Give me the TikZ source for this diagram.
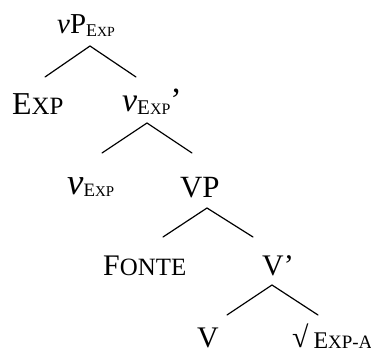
\documentclass[tikz,border=0pt]{standalone}
\usepackage{fontspec}
\setmainfont{Liberation Serif}
\usetikzlibrary{positioning}

% fake small caps: first letter at #1, rest at #2
\newcommand{\fsc}[4]{{\fontsize{#1}{#1}\selectfont #3}{\fontsize{#2}{#2}\selectfont #4}}
\newcommand{\lowered}[2]{\raisebox{-#1}{#2}}

\tikzset{
    branch/.style = {line width=1.2bp, line cap=round},
    lab/.style    = {inner sep=0pt, anchor=base west},
}

\begin{document}
\begin{tikzpicture}[x=1bp,y=-1bp]

    \useasboundingbox (0,0) rectangle (371,354);

    % ---------- labels ----------
    \node[lab] (vPexp) at (57,33)
      {\fontsize{29}{29}\selectfont\textit{v}P\lowered{3bp}{\fsc{18}{14}{E}{XP}}};
    \node[lab] (exp) at (12,114) {\fsc{32}{25}{E}{XP}};
    \node[lab] (vbar) at (122,111)
      {\fontsize{34}{34}\selectfont\textit{v}\lowered{3bp}{\fsc{21}{16}{E}{XP}}’};
    \node[lab] (vhead) at (67,194)
      {\fontsize{37}{37}\selectfont\textit{v}\lowered{2bp}{\fsc{19}{15}{E}{XP}}};
    \node[lab] (VP) at (180,197) {\fontsize{31}{31}\selectfont VP};
    \node[lab] (fonte) at (103,275) {\fsc{30}{25}{F}{ONTE}};
    \node[lab] (Vbar) at (262,275) {\fontsize{30}{30}\selectfont V’};
    \node[lab] (V) at (197,347) {\fontsize{30}{30}\selectfont V};
    \node[lab] (root) at (292,347)
      {\fontsize{30}{30}\selectfont √\,\lowered{1bp}{\fsc{24}{19}{E}{XP-A}}};

    % ---------- branches ----------
    \coordinate (top1) at (90,46);   \coordinate (l1) at (45,77);   \coordinate (r1) at (136,77);
    \coordinate (top2) at (147,123); \coordinate (l2) at (102,153); \coordinate (r2) at (192,153);
    \coordinate (top3) at (207,208); \coordinate (l3) at (163,237); \coordinate (r3) at (253,237);
    \coordinate (top4) at (272,285); \coordinate (l4) at (227,315); \coordinate (r4) at (318,315);

    \foreach \i in {1,...,4}{
        \draw[branch] (l\i) -- (top\i) -- (r\i);
    }

\end{tikzpicture}
\end{document}
